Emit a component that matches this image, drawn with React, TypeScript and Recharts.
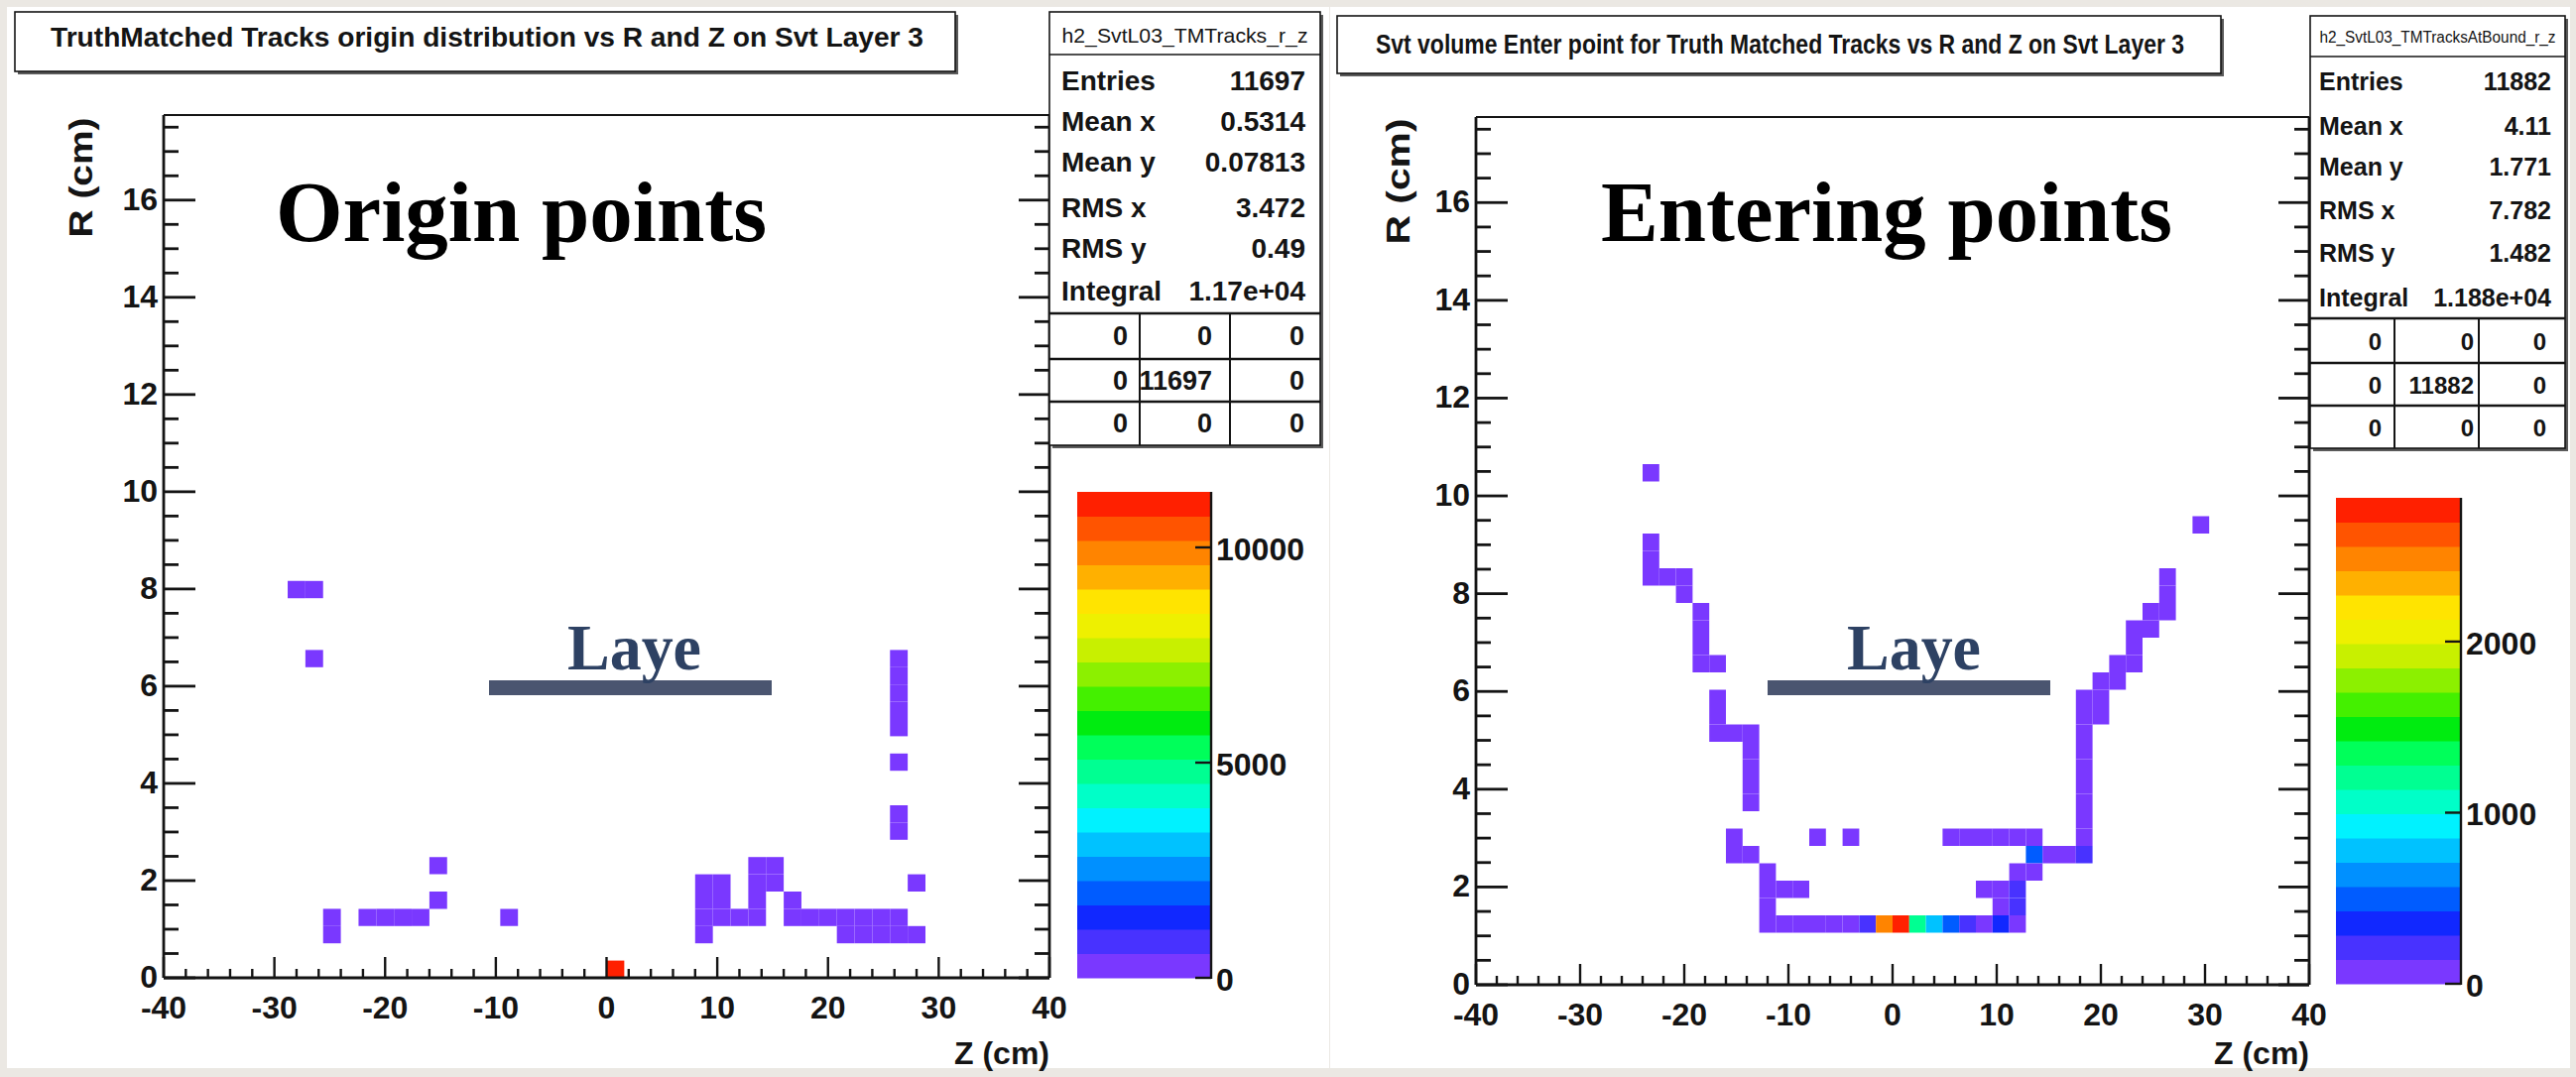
import React from 'react';
import { ScatterChart, Scatter, XAxis, YAxis, ReferenceArea } from 'recharts';

// ---- Histogram binning (ROOT TH2F, 50 x 50 bins) ----
const Z_MIN = -40;
const Z_MAX = 40;
const Z_BIN = 1.6;
const R_MIN = 0;
const R_MAX = 17.75;
const R_BIN = 0.355;

// ---- 20-level colour palette (low -> high) ----
const palette = [
  '#7a38ff', '#4832ff', '#1128ff', '#005cff', '#0090ff',
  '#00c2ff', '#00f2ff', '#00ffc8', '#00ff92', '#00ff5a',
  '#00ec10', '#44f000', '#8cf000', '#c8f000', '#eef000',
  '#ffe400', '#ffb000', '#ff8400', '#ff5400', '#ff2000',
];

// ---- Axis ticks ----
const zMajorTicks = [-40, -30, -20, -10, 0, 10, 20, 30, 40];
const rMajorTicks = [0, 2, 4, 6, 8, 10, 12, 14, 16];
const zMinorStep = 2;
const rMinorStep = 0.5;

// ---- Left histogram: origin points  [zBin, rBin, entries] ----
const originBins = [
  [7, 22, 9], [8, 22, 11], [8, 18, 8], [9, 2, 7], [9, 3, 10],
  [11, 3, 9], [12, 3, 12], [13, 3, 10], [14, 3, 8], [15, 4, 7], [15, 6, 6],
  [19, 3, 8], [25, 0, 11290],
  [30, 2, 9], [30, 3, 12], [30, 4, 10], [30, 5, 8],
  [31, 3, 11], [31, 4, 9], [31, 5, 7], [32, 3, 10],
  [33, 3, 12], [33, 4, 9], [33, 5, 8], [33, 6, 7],
  [34, 5, 9], [34, 6, 8], [35, 3, 10], [35, 4, 7], [36, 3, 9], [37, 3, 8],
  [38, 2, 8], [38, 3, 10], [39, 2, 9], [39, 3, 11], [40, 2, 10], [40, 3, 9],
  [41, 2, 11], [41, 3, 12], [42, 2, 8], [42, 5, 6],
  [41, 8, 6], [41, 9, 7], [41, 12, 5],
  [41, 14, 6], [41, 15, 7], [41, 16, 8], [41, 17, 6], [41, 18, 7],
];
const originZMax = 11290;
const originColorTicks = [0, 5000, 10000];
const originStats = [
  ['Entries', '11697'], ['Mean x', '0.5314'], ['Mean y', '0.07813'],
  ['RMS x', '3.472'], ['RMS y', '0.49'], ['Integral', '1.17e+04'],
];
const originGrid = [['0', '0', '0'], ['0', '11697', '0'], ['0', '0', '0']];

// ---- Right histogram: entering points  [zBin, rBin, entries] ----
const enterBins = [
  [17, 3, 60], [18, 3, 75], [19, 3, 70], [20, 3, 90], [21, 3, 85], [22, 3, 120],
  [23, 3, 215], [24, 3, 2480], [25, 3, 2840], [26, 3, 1200], [27, 3, 780],
  [28, 3, 500], [29, 3, 210], [30, 3, 130], [31, 3, 350], [32, 3, 110],
  [17, 4, 35], [17, 5, 30], [17, 6, 25], [18, 5, 28], [19, 5, 22],
  [15, 7, 20], [16, 7, 24], [15, 8, 18], [20, 8, 12], [22, 8, 14],
  [16, 10, 18], [16, 11, 20], [16, 12, 22], [16, 13, 19], [16, 14, 24],
  [14, 14, 20], [15, 14, 26], [14, 15, 18], [14, 16, 16],
  [13, 18, 22], [14, 18, 18], [13, 19, 20], [13, 20, 17], [13, 21, 15],
  [12, 22, 14], [12, 23, 18], [10, 23, 16], [11, 23, 20],
  [10, 24, 12], [10, 25, 10], [10, 29, 8],
  [28, 8, 40], [29, 8, 35], [30, 8, 30], [31, 8, 38], [32, 8, 45], [33, 8, 60],
  [33, 7, 480], [34, 7, 120], [35, 7, 100], [36, 7, 180],
  [32, 6, 95], [33, 6, 110],
  [30, 5, 70], [31, 5, 90], [32, 5, 170],
  [31, 4, 105], [32, 4, 200],
  [36, 8, 45], [36, 9, 38], [36, 10, 35], [36, 11, 30], [36, 12, 28],
  [36, 13, 26], [36, 14, 24], [36, 15, 22], [36, 16, 20],
  [37, 15, 18], [37, 16, 20], [37, 17, 16],
  [38, 17, 18], [38, 18, 15],
  [39, 18, 16], [39, 19, 14], [39, 20, 15],
  [40, 20, 12], [40, 21, 14],
  [41, 21, 12], [41, 22, 10], [41, 23, 11],
  [43, 26, 8],
];
const enterZMax = 2840;
const enterColorTicks = [0, 1000, 2000];
const enterStats = [
  ['Entries', '11882'], ['Mean x', '4.11'], ['Mean y', '1.771'],
  ['RMS x', '7.782'], ['RMS y', '1.482'], ['Integral', '1.188e+04'],
];
const enterGrid = [['0', '0', '0'], ['0', '11882', '0'], ['0', '0', '0']];

// ---------------------------------------------------------------
const FONT = '"Liberation Sans", Arial, Helvetica, sans-serif';
const SERIF = '"Liberation Serif", "Times New Roman", serif';
const INK = '#141414';
const AX = 30; // thickness reserved for each axis component

const buildTicks = (min: number, max: number, step: number) => {
  const out: number[] = [];
  const n = Math.round((max - min) / step);
  for (let k = 0; k <= n; k++) out.push(+(min + k * step).toFixed(4));
  return out;
};
const zTicks = buildTicks(Z_MIN, Z_MAX, zMinorStep);
const rTicks = buildTicks(R_MIN, 17.5, rMinorStep);

const isMajor = (v: number, majors: number[]) => majors.some((m) => Math.abs(m - v) < 1e-6);

const colorOf = (n: number, zmax: number) =>
  palette[Math.max(0, Math.min(palette.length - 1, Math.floor((n / zmax) * palette.length)))];

const BottomTick = (p: any) => {
  const v = p.payload.value;
  const major = isMajor(v, zMajorTicks);
  return (
    <g>
      <line x1={p.x} x2={p.x} y1={p.y} y2={p.y - (major ? 21 : 9)} stroke={INK} strokeWidth={2.4} />
      {major && (
        <text x={p.x} y={p.y + 30} textAnchor="middle" dominantBaseline="central"
          fontFamily={FONT} fontWeight="bold" fontSize={32} fill={INK}>{v}</text>
      )}
    </g>
  );
};
const TopTick = (p: any) => {
  const v = p.payload.value;
  const major = isMajor(v, zMajorTicks);
  return <line x1={p.x} x2={p.x} y1={p.y} y2={p.y + (major ? 21 : 9)} stroke={INK} strokeWidth={2.4} />;
};
const LeftTick = (p: any) => {
  const v = p.payload.value;
  const major = isMajor(v, rMajorTicks);
  return (
    <g>
      <line x1={p.x} x2={p.x + (major ? 32 : 15)} y1={p.y} y2={p.y} stroke={INK} strokeWidth={2.8} />
      {major && (
        <text x={p.x - 6} y={p.y - 1} textAnchor="end" dominantBaseline="central"
          fontFamily={FONT} fontWeight="bold" fontSize={32} fill={INK}>{v}</text>
      )}
    </g>
  );
};
const RightTick = (p: any) => {
  const v = p.payload.value;
  const major = isMajor(v, rMajorTicks);
  return <line x1={p.x} x2={p.x - (major ? 31 : 15)} y1={p.y} y2={p.y} stroke={INK} strokeWidth={2.8} />;
};
const Empty = () => <g />;

type PanelProps = {
  cells: number[][];
  zmax: number;
  left: number;
  width: number;
  plot: { top: number; right: number; bottom: number; left: number };
};

function HistPanel({ cells, zmax, left, width, plot }: PanelProps) {
  const centers = cells.map(([i, j, n]) => ({
    z: Z_MIN + (i + 0.5) * Z_BIN,
    r: R_MIN + (j + 0.5) * R_BIN,
    n,
  }));
  const margin = {
    top: plot.top - AX,
    right: plot.right - AX,
    bottom: plot.bottom - AX,
    left: plot.left - AX,
  };
  return (
    <div style={{ position: 'absolute', left, top: 0 }}>
      <ScatterChart width={width} height={1086} margin={margin}>
        <XAxis xAxisId={0} type="number" dataKey="z" domain={[Z_MIN, Z_MAX]} ticks={zTicks}
          interval={0} height={AX} tickSize={0} tickMargin={0} tickLine={false}
          axisLine={{ stroke: INK, strokeWidth: 2.8 }} tick={BottomTick} allowDataOverflow />
        <XAxis xAxisId="top" orientation="top" type="number" domain={[Z_MIN, Z_MAX]} ticks={zTicks}
          interval={0} height={AX} tickSize={0} tickMargin={0} tickLine={false}
          axisLine={{ stroke: INK, strokeWidth: 2.2 }} tick={TopTick} allowDataOverflow />
        <YAxis yAxisId={0} type="number" dataKey="r" domain={[R_MIN, R_MAX]} ticks={rTicks}
          interval={0} width={AX} tickSize={0} tickMargin={0} tickLine={false}
          axisLine={{ stroke: INK, strokeWidth: 2.8 }} tick={LeftTick} allowDataOverflow />
        <YAxis yAxisId="right" orientation="right" type="number" domain={[R_MIN, R_MAX]} ticks={rTicks}
          interval={0} width={AX} tickSize={0} tickMargin={0} tickLine={false}
          axisLine={{ stroke: INK, strokeWidth: 2.8 }} tick={RightTick} allowDataOverflow />
        {cells.map(([i, j, n], k) => (
          <ReferenceArea key={k} xAxisId={0} yAxisId={0}
            x1={Z_MIN + i * Z_BIN} x2={Z_MIN + (i + 1) * Z_BIN}
            y1={R_MIN + j * R_BIN} y2={R_MIN + (j + 1) * R_BIN}
            fill={colorOf(n, zmax)} fillOpacity={1} stroke="none" ifOverflow="visible" />
        ))}
        <Scatter xAxisId={0} yAxisId={0} data={centers} dataKey="n" isAnimationActive={false} shape={Empty} />
      </ScatterChart>
    </div>
  );
}

type BoxSpec = { x: number; y: number; w: number; h: number };

function ShadowBox({ x, y, w, h }: BoxSpec) {
  return (
    <g>
      <rect x={x + 3} y={y + 3} width={w} height={h} fill="#5a5a5a" />
      <rect x={x} y={y} width={w} height={h} fill="#fff" stroke={INK} strokeWidth={1.6} />
    </g>
  );
}

function StatsBox(props: {
  x: number; y: number; w: number; h: number; name: string; nameSize: number; nameLen: number;
  nameY: number; sepY: number[]; colX: number[]; labelX: number; valueX: number; fontSize: number;
  rowY: number[]; stats: string[][]; grid: string[][]; gridRowY: number[]; gridValX: number[];
}) {
  const { x, y, w, h, fontSize } = props;
  return (
    <g fontFamily={FONT} fill={INK}>
      <ShadowBox x={x} y={y} w={w} h={h} />
      <text x={x + w / 2} y={props.nameY} textAnchor="middle" dominantBaseline="central"
        fontSize={props.nameSize} textLength={props.nameLen} lengthAdjust="spacingAndGlyphs">{props.name}</text>
      {props.sepY.map((sy, k) => (
        <line key={k} x1={x} x2={x + w} y1={sy} y2={sy} stroke={INK} strokeWidth={k === 0 ? 1.6 : 2.4} />
      ))}
      {props.colX.map((cx, k) => (
        <line key={k} x1={cx} x2={cx} y1={props.sepY[1]} y2={y + h} stroke={INK} strokeWidth={2} />
      ))}
      {props.stats.map(([label, val], k) => (
        <g key={k}>
          <text x={props.labelX} y={props.rowY[k]} dominantBaseline="central" fontSize={fontSize} fontWeight="bold">{label}</text>
          <text x={props.valueX} y={props.rowY[k]} textAnchor="end" dominantBaseline="central" fontSize={fontSize} fontWeight="bold">{val}</text>
        </g>
      ))}
      {props.grid.map((row, r) =>
        row.map((val, c) => (
          <text key={`${r}-${c}`} x={props.gridValX[c]} y={props.gridRowY[r]} textAnchor="end"
            dominantBaseline="central" fontSize={fontSize - 1} fontWeight="bold">{val}</text>
        ))
      )}
    </g>
  );
}

function ColorBar(props: { x: number; w: number; bottom: number; top: number; zmax: number; ticks: number[] }) {
  const { x, w, bottom, top, zmax, ticks } = props;
  const yOf = (v: number) => bottom - (v / zmax) * (bottom - top);
  const step = zmax / palette.length;
  return (
    <g>
      {palette.map((c, k) => (
        <rect key={k} x={x} y={yOf((k + 1) * step)} width={w} height={yOf(k * step) - yOf((k + 1) * step) + 0.5} fill={c} />
      ))}
      <line x1={x + w} x2={x + w} y1={top} y2={bottom + 1} stroke={INK} strokeWidth={2.4} />
      {ticks.map((t) => (
        <g key={t}>
          <line x1={x + w - 16} x2={x + w} y1={yOf(t)} y2={yOf(t)} stroke={INK} strokeWidth={2.4} />
          <text x={x + w + 5} y={yOf(t) + 2} dominantBaseline="central" fontFamily={FONT}
            fontWeight="bold" fontSize={32} fill={INK}>{t}</text>
        </g>
      ))}
    </g>
  );
}

export default function App() {
  return (
    <div style={{ position: 'absolute', left: 0, top: 0, width: 2597, height: 1086, background: '#ebe8e3', overflow: 'hidden' }}>
      <div style={{ position: 'absolute', left: 7, top: 7, width: 1333, height: 1070, background: '#fff' }} />
      <div style={{ position: 'absolute', left: 1341, top: 7, width: 1250, height: 1070, background: '#fff' }} />

      <HistPanel cells={originBins} zmax={originZMax} left={0} width={1340}
        plot={{ top: 116, right: 282, bottom: 100, left: 165 }} />
      <HistPanel cells={enterBins} zmax={enterZMax} left={1340} width={1257}
        plot={{ top: 118, right: 269, bottom: 93, left: 148 }} />

      <svg width={2597} height={1086} style={{ position: 'absolute', left: 0, top: 0, pointerEvents: 'none' }}>
        {/* ---------- left panel ---------- */}
        <ShadowBox x={15} y={12} w={948} h={60} />
        <text x={51} y={47} fontFamily={FONT} fontWeight="bold" fontSize={28} fill={INK}
          textLength={880} lengthAdjust="spacingAndGlyphs">TruthMatched Tracks origin distribution vs R and Z on Svt Layer 3</text>

        <StatsBox x={1058} y={12} w={273} h={437} name="h2_SvtL03_TMTracks_r_z" nameSize={21} nameLen={248}
          nameY={35} sepY={[55, 316, 362, 405]} colX={[1149, 1240]} labelX={1070} valueX={1316} fontSize={28}
          rowY={[81, 122, 163, 209, 250, 293]} stats={originStats} grid={originGrid}
          gridRowY={[339, 384, 427]} gridValX={[1137, 1222, 1315]} />

        <ColorBar x={1086} w={135} bottom={986} top={496} zmax={originZMax} ticks={originColorTicks} />

        <text x={278} y={243} fontFamily={SERIF} fontWeight="bold" fontSize={87} fill="#000"
          textLength={495} lengthAdjust="spacingAndGlyphs">Origin points</text>
        <rect x={493} y={686} width={285} height={15} fill="#4a5570" />
        <text x={572} y={675} fontFamily={SERIF} fontWeight="bold" fontSize={65} fill="#2d4163"
          textLength={135} lengthAdjust="spacingAndGlyphs">Laye</text>

        <text transform="translate(81,179) rotate(-90)" textAnchor="middle" dominantBaseline="central"
          fontFamily={FONT} fontWeight="bold" fontSize={33} fill={INK}
          textLength={121} lengthAdjust="spacingAndGlyphs">R (cm)</text>
        <text x={1058} y={1062} textAnchor="end" dominantBaseline="central" fontFamily={FONT}
          fontWeight="bold" fontSize={32} fill={INK}>Z (cm)</text>

        {/* ---------- right panel ---------- */}
        <ShadowBox x={1348} y={16} w={891} h={58} />
        <text x={1387} y={54} fontFamily={FONT} fontWeight="bold" fontSize={27} fill={INK}
          textLength={815} lengthAdjust="spacingAndGlyphs">Svt volume Enter point for Truth Matched Tracks vs R and Z on Svt Layer 3</text>

        <StatsBox x={2329} y={16} w={257} h={436} name="h2_SvtL03_TMTracksAtBound_r_z" nameSize={16} nameLen={238}
          nameY={37} sepY={[57, 321, 366, 409]} colX={[2414, 2499]} labelX={2338} valueX={2572} fontSize={25}
          rowY={[82, 127, 168, 212, 255, 300]} stats={enterStats} grid={enterGrid}
          gridRowY={[344, 388, 431]} gridValX={[2401, 2494, 2567]} />

        <ColorBar x={2355} w={126} bottom={992} top={502} zmax={enterZMax} ticks={enterColorTicks} />

        <text x={1614} y={243} fontFamily={SERIF} fontWeight="bold" fontSize={87} fill="#000"
          textLength={576} lengthAdjust="spacingAndGlyphs">Entering points</text>
        <rect x={1782} y={686} width={285} height={15} fill="#4a5570" />
        <text x={1862} y={675} fontFamily={SERIF} fontWeight="bold" fontSize={65} fill="#2d4163"
          textLength={135} lengthAdjust="spacingAndGlyphs">Laye</text>

        <text transform="translate(1409,183) rotate(-90)" textAnchor="middle" dominantBaseline="central"
          fontFamily={FONT} fontWeight="bold" fontSize={33} fill={INK}
          textLength={127} lengthAdjust="spacingAndGlyphs">R (cm)</text>
        <text x={2328} y={1062} textAnchor="end" dominantBaseline="central" fontFamily={FONT}
          fontWeight="bold" fontSize={32} fill={INK}>Z (cm)</text>
      </svg>
    </div>
  );
}
